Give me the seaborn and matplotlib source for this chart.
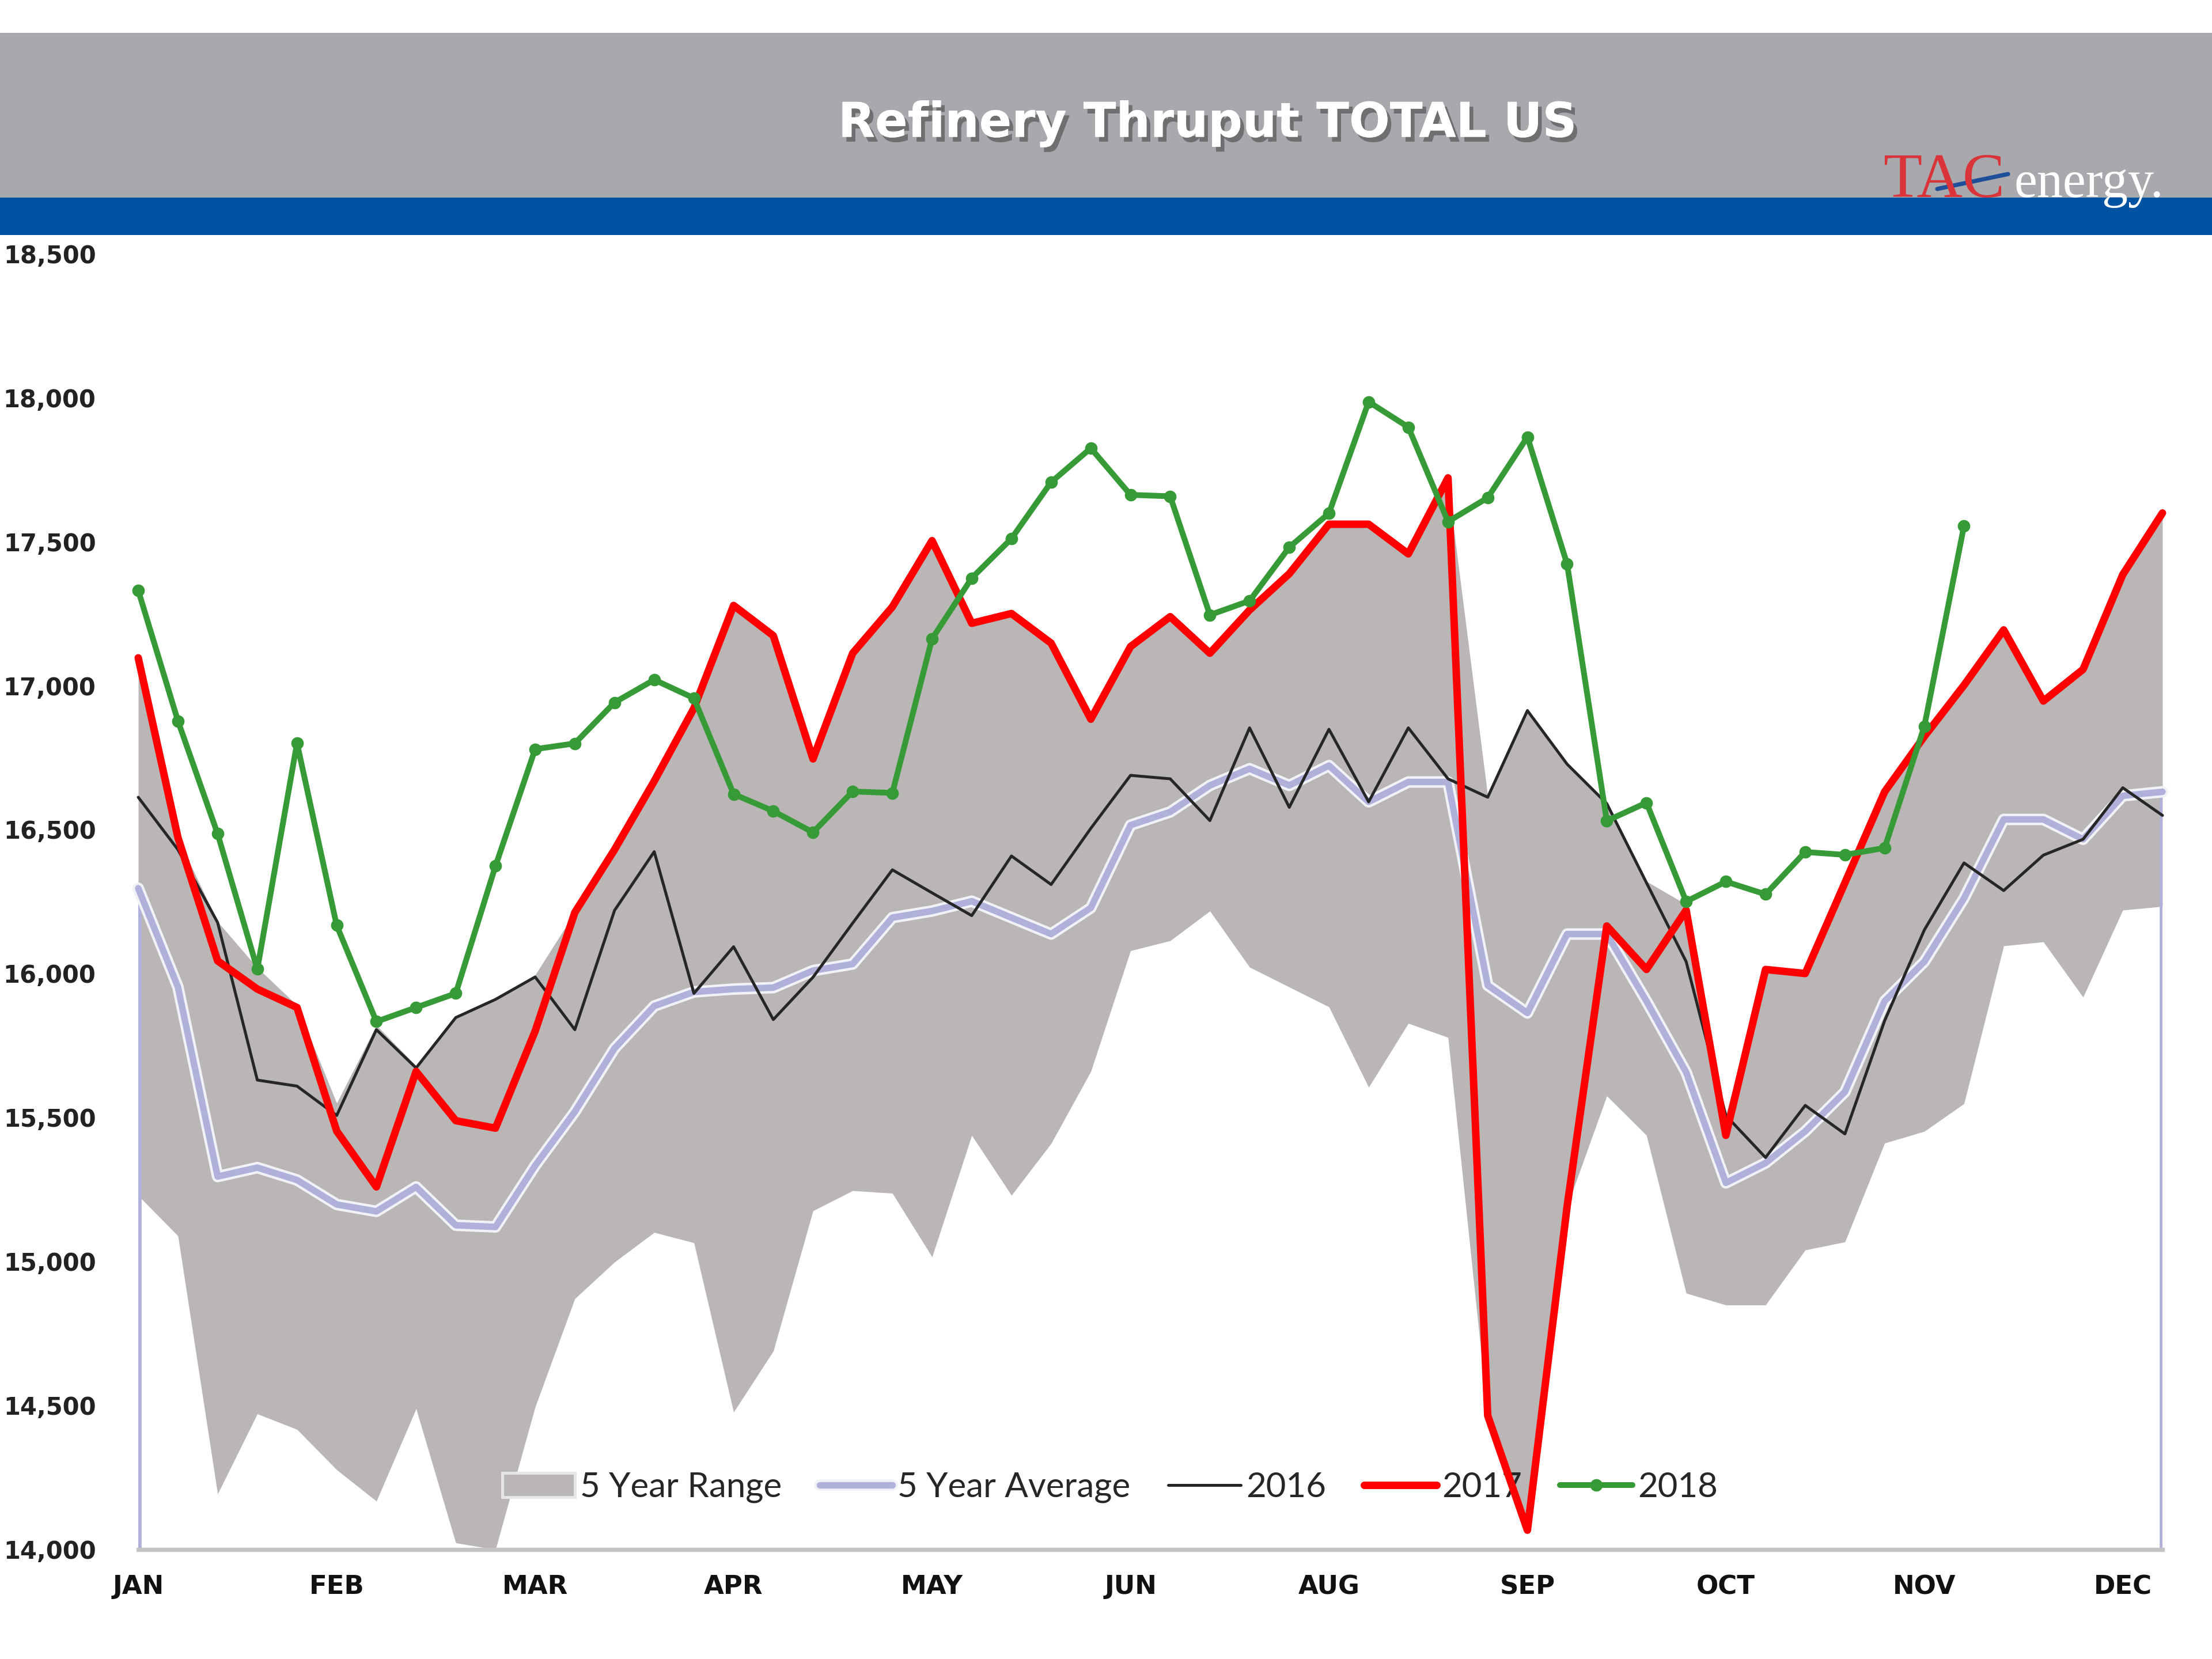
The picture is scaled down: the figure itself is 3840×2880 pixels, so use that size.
import matplotlib
matplotlib.use("Agg")
import matplotlib.pyplot as plt
import matplotlib.patheffects as pe
from matplotlib.patches import Rectangle, Patch
from matplotlib.lines import Line2D
import seaborn as sns
import pandas as pd

# ---------------- data (weekly, thousand b/d) ----------------
weeks = list(range(52))
month_ticks = [0, 5, 10, 15, 20, 25, 30, 35, 40, 45, 50]
month_labels = ["JAN", "FEB", "MAR", "APR", "MAY", "JUN", "AUG", "SEP", "OCT", "NOV", "DEC"]
y_ticks = [14000, 14500, 15000, 15500, 16000, 16500, 17000, 17500, 18000, 18500]

range_low = [15229, 15089, 14193, 14471, 14417, 14277, 14168, 14489, 14023, 14000,
             14495, 14871, 14998, 15101, 15065, 14477, 14689, 15176, 15246, 15237,
             15016, 15438, 15230, 15410, 15660, 16079, 16114, 16217, 16022, 15953,
             15884, 15605, 15827, 15778, 14465, 14067, 15191, 15575, 15438, 14890,
             14849, 14849, 15040, 15068, 15411, 15452, 15548, 16096, 16110, 15918,
             16220, 16233]
range_high = [17100, 16470, 16180, 16020, 15890, 15550, 15820, 15680, 15850, 15910,
              15995, 16212, 16430, 16668, 16921, 17278, 17173, 16745, 17112, 17273,
              17503, 17216, 17250, 17147, 16883, 17135, 17239, 17112, 17262, 17388,
              17560, 17560, 17457, 17700, 16617, 16913, 16727, 16590, 16320, 16240,
              15510, 16014, 16000, 16315, 16631, 16823, 17001, 17193, 16946, 17056,
              17385, 17599]
avg5 = [16296, 15953, 15295, 15326, 15283, 15198, 15174, 15259, 15126, 15120,
        15333, 15520, 15740, 15887, 15936, 15946, 15951, 16010, 16033, 16194,
        16217, 16251, 16194, 16137, 16228, 16515, 16561, 16653, 16711, 16653,
        16722, 16596, 16665, 16665, 15959, 15863, 16137, 16137, 15904, 15657,
        15273, 15342, 15452, 15589, 15904, 16041, 16261, 16535, 16535, 16466,
        16617, 16631]
y2016 = [16612, 16430, 16177, 15630, 15609, 15507, 15805, 15672, 15847, 15910,
         15988, 15805, 16219, 16423, 15931, 16093, 15840, 15987, 16175, 16360,
         16280, 16201, 16408, 16309, 16504, 16688, 16676, 16531, 16853, 16577,
         16848, 16596, 16853, 16676, 16612, 16913, 16727, 16590, 16315, 16041,
         15507, 15361, 15542, 15443, 15836, 16151, 16384, 16288, 16411, 16466,
         16645, 16549]
y2017 = [17096, 16472, 16044, 15946, 15882, 15453, 15259, 15660, 15489, 15463,
         15800, 16212, 16430, 16668, 16921, 17278, 17173, 16745, 17112, 17273,
         17503, 17216, 17250, 17147, 16883, 17135, 17239, 17112, 17262, 17388,
         17560, 17560, 17457, 17721, 14465, 14067, 15191, 16165, 16014, 16220,
         15438, 16014, 16000, 16315, 16631, 16823, 17001, 17193, 16946, 17056,
         17385, 17599]
y2018 = [17330, 16877, 16485, 16015, 16800, 16167, 15833, 15882, 15931, 16373,
         16779, 16799, 16941, 17020, 16956, 16623, 16564, 16490, 16632, 16627,
         17162, 17373, 17510, 17706, 17824, 17662, 17657, 17245, 17294, 17480,
         17598, 17985, 17897, 17569, 17652, 17863, 17422, 16530, 16593, 16250,
         16319, 16275, 16422, 16412, 16436, 16858, 17554]

# ---------------- style ----------------
GRAY = "#bab6b5"
LAV = "#afb1da"
RED = "#ff0000"
BLACK = "#262626"
GREEN = "#369b36"
HEADER_GRAY = "#a8a9ad"
HEADER_BLUE = "#0052a3"

sns.set_theme(style="white")
plt.rcParams["font.family"] = ["DejaVu Sans"]

fig = plt.figure(figsize=(16, 12), dpi=240)
fig.patch.set_facecolor("white")

# header bands
fig.add_artist(Rectangle((0, 0.8809), 1, 0.0993, transform=fig.transFigure,
                         facecolor=HEADER_GRAY, edgecolor="none", zorder=0))
fig.add_artist(Rectangle((0, 0.8583), 1, 0.0226, transform=fig.transFigure,
                         facecolor=HEADER_BLUE, edgecolor="none", zorder=0))
fig.text(0.546, 0.9255, "Refinery Thruput TOTAL US", ha="center", va="center",
         color="white", fontsize=25, fontweight="bold", family="DejaVu Sans",
         path_effects=[pe.withSimplePatchShadow(offset=(2, -2.5), shadow_rgbFace="#404040", alpha=0.55),
                       pe.Normal()])
# logo
fig.text(0.8513, 0.8812, "TAC", ha="left", va="baseline", color="#d9343a",
         fontsize=33, family="Liberation Serif")
fig.text(0.9105, 0.8812, "energy.", ha="left", va="baseline", color="white",
         fontsize=27, family="Liberation Serif")
fig.add_artist(Line2D([0.8758, 0.9078], [0.8861, 0.8951], transform=fig.transFigure,
                      color="#1f4e9a", lw=2.2))

# ---------------- chart ----------------
ax = fig.add_axes([0.0625, 0.066, 0.9151, 0.7812])
ax.set_facecolor("white")

ax.fill_between(weeks, range_low, range_high, color=GRAY, lw=0, zorder=1,
                label="5 Year Range")
ax.vlines([weeks[0], weeks[-1]], y_ticks[0], [avg5[0], avg5[-1]], color=LAV,
          lw=3.2, zorder=2)

df_avg = pd.DataFrame({"week": weeks, "v": avg5})
df16 = pd.DataFrame({"week": weeks, "v": y2016})
df17 = pd.DataFrame({"week": weeks, "v": y2017})
df18 = pd.DataFrame({"week": weeks[:len(y2018)], "v": y2018})

sns.lineplot(data=df_avg, x="week", y="v", ax=ax, color=LAV, lw=3.4, zorder=3,
             label="5 Year Average", clip_on=False,
             path_effects=[pe.Stroke(linewidth=6.0, foreground="#f1f1f8"), pe.Normal()])
sns.lineplot(data=df16, x="week", y="v", ax=ax, color=BLACK, lw=1.5, zorder=4,
             label="2016", clip_on=False)
sns.lineplot(data=df17, x="week", y="v", ax=ax, color=RED, lw=3.9, zorder=5,
             label="2017", clip_on=False)
sns.lineplot(data=df18, x="week", y="v", ax=ax, color=GREEN, lw=3.0, zorder=6,
             marker="o", markersize=6.5, markeredgewidth=0, label="2018", clip_on=False)

ax.set_xlim(0, 51)
ax.set_ylim(y_ticks[0], y_ticks[-1])
ax.set_xlabel("")
ax.set_ylabel("")
ax.set_xticks(month_ticks)
ax.set_xticklabels(month_labels)
ax.set_yticks(y_ticks)
ax.set_yticklabels([f"{v:,}" for v in y_ticks])
ax.tick_params(axis="y", length=0, pad=22, labelsize=12.5, labelcolor="#222222")
ax.tick_params(axis="x", length=0, pad=13, labelsize=13.5, labelcolor="#111111")
for lab in ax.get_xticklabels() + ax.get_yticklabels():
    lab.set_fontweight("bold")

for s in ["top", "right", "left"]:
    ax.spines[s].set_visible(False)
ax.spines["bottom"].set_color("#c4c4c4")
ax.spines["bottom"].set_linewidth(2.2)
ax.grid(False)

# legend
handles, labels = ax.get_legend_handles_labels()
hmap = dict(zip(labels, handles))
order = ["5 Year Range", "5 Year Average", "2016", "2017", "2018"]
range_handle = Patch(facecolor=GRAY, edgecolor="#e6e6e6", linewidth=1.5)
leg_handles = [range_handle] + [hmap[k] for k in order[1:]]
leg = ax.legend(leg_handles, order, ncol=5, frameon=False, loc="center",
                bbox_to_anchor=(0.48, 0.048), handlelength=2.1, handletextpad=0.15,
                columnspacing=1.1, prop={"family": "Lato", "size": 18})
leg.set_zorder(2.5)

fig.savefig("out.png", dpi=240, facecolor="white")
